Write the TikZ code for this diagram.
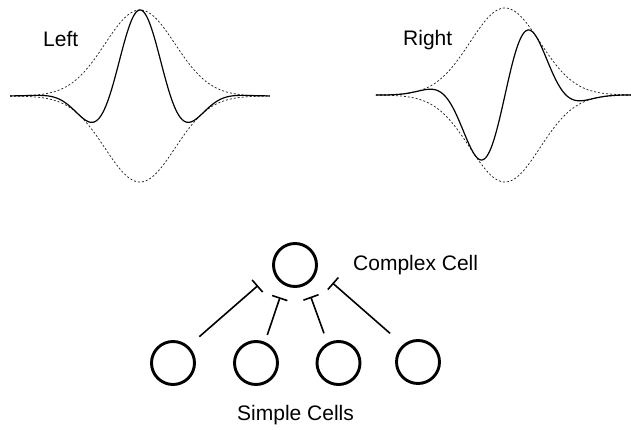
\documentclass[tikz,border=0pt]{standalone}
\usepackage{fontspec}
\setmainfont{Liberation Sans}
\usetikzlibrary{arrows.meta,calc}
\begin{document}
\begin{tikzpicture}[x=1pt,y=-1pt,
  cell/.style={circle,draw,line width=2.9pt,minimum size=43pt,inner sep=0pt},
  inhib/.style={line width=1.6pt,-{Bar[width=16pt,line width=1.6pt]}},
  env/.style={line width=0.75pt,dash pattern=on 2pt off 2pt,black!85},
  gabor/.style={line width=1.2pt},
  lbl/.style={font=\fontsize{21}{25}\selectfont,inner sep=0pt,anchor=base west}]
\useasboundingbox (0,0) rectangle (631,430);
% Left panel (even Gabor)
\draw[env] plot[domain=-3.71:3.71,samples=200] ({140+35*\x},{96-86*exp(-\x*\x/2)});
\draw[env] plot[domain=-3.71:3.71,samples=200] ({140+35*\x},{96+86*exp(-\x*\x/2)});
\draw[gabor] plot[domain=-3.71:3.71,samples=300] ({140+35*\x},{96-86*exp(-\x*\x/2)*cos(103.3*\x)});
\node[lbl] (left) at (43,46.7) {Left};
% Right panel (odd Gabor)
\draw[env] plot[domain=-3.69:3.6,samples=200] ({505+35*\x},{95-87*exp(-\x*\x/2)});
\draw[env] plot[domain=-3.69:3.6,samples=200] ({505+35*\x},{95+87*exp(-\x*\x/2)});
\draw[gabor] plot[domain=-3.69:3.6,samples=300] ({505+35*\x},{95-87*exp(-\x*\x/2)*sin(103.3*\x)});
\node[lbl] (right) at (403,45.7) {Right};
% Cells
\node[cell] (c) at (295,265) {};
\node[cell] (s1) at (173,363) {};
\node[cell] (s2) at (256,363) {};
\node[cell] (s3) at (338.5,363) {};
\node[cell] (s4) at (418,362) {};
\node[lbl] (clbl) at (353,270) {Complex Cell};
\node[lbl] (slbl) at (237,420) {Simple Cells};
% Connections
\draw[inhib] ($(s1)+(26.3,-26.3)$) -- ($(c)+(-37,20.5)$);
\draw[inhib] ($(s2)+(11.3,-28)$) -- ($(c)+(-15,32.3)$);
\draw[inhib] ($(s3)+(-14.5,-29.7)$) -- ($(c)+(15.7,31.7)$);
\draw[inhib] ($(s4)+(-28,-28.7)$) -- ($(c)+(37.5,18)$);
\end{tikzpicture}
\end{document}
